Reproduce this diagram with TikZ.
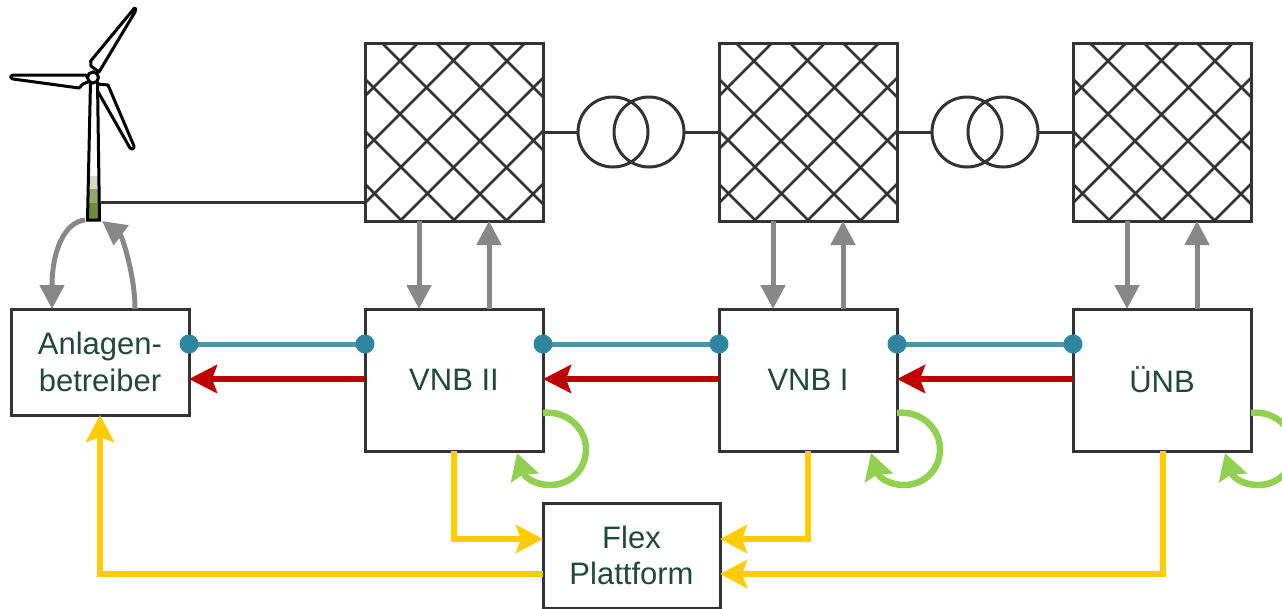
\documentclass[tikz,border=0pt]{standalone}
\usepackage{fontspec}
\setmainfont{Liberation Sans}
\usetikzlibrary{arrows.meta}
\definecolor{boxc}{HTML}{333333}
\definecolor{txtc}{HTML}{1F4A38}
\definecolor{grayc}{HTML}{888888}
\definecolor{bluec}{HTML}{4A97A8}
\definecolor{dotc}{HTML}{2F86A0}
\definecolor{redc}{HTML}{C00000}
\definecolor{yelc}{HTML}{FFCC00}
\definecolor{grnc}{HTML}{92D050}
\definecolor{towerg}{HTML}{6C8C38}
\tikzset{
  box/.style={draw=boxc,line width=3pt,fill=white,inner sep=0pt,outer sep=0pt,text=txtc,align=center,
    font=\fontsize{31}{36.7}\selectfont},
  gridbox/.style={draw=boxc,line width=3pt,inner sep=0pt,outer sep=0pt,minimum width=178pt,minimum height=178pt},
  hatchline/.style={draw=boxc,line width=2.6pt},
  trafo/.style={circle,draw=boxc,line width=3pt,inner sep=0pt,outer sep=0pt,minimum size=70pt},
  wire/.style={draw=boxc,line width=3pt},
  dotn/.style={circle,fill=dotc,inner sep=0pt,outer sep=0pt,minimum size=19pt},
  blueline/.style={draw=bluec,line width=5pt},
  grayarr/.style={draw=grayc,line width=5pt,-{Triangle[length=24pt,width=24pt,fill=grayc]}},
  redarr/.style={draw=redc,line width=6.5pt,-{Stealth[length=28pt,width=28pt,inset=5pt,fill=redc]}},
  yelarr/.style={draw=yelc,line width=6.5pt,-{Stealth[length=27pt,width=28pt,inset=5pt,fill=yelc]}},
  grnarr/.style={draw=grnc,line width=6.5pt,-{Stealth[length=26pt,width=29pt,inset=4pt,fill=grnc]}},
  blade/.style={draw=black,line width=3pt,fill=white,line join=round},
}
\begin{document}
\begin{tikzpicture}[x=1pt,y=-1pt]
\useasboundingbox (0,0) rectangle (1282,608);
% grids
\foreach \o/\n in {0/1,354/2,708/3}{
  \begin{scope}[shift={(\o,0)}]
    \begin{scope}
      \clip (365,43) rectangle (543,221);
      \foreach \c in {181,234,286,339,393,446}
        \draw[hatchline] (365,{365-\c}) -- (543,{543-\c});
      \foreach \s in {461,514,568,621,674,727}
        \draw[hatchline] (365,{\s-365}) -- (543,{\s-543});
    \end{scope}
    \node[gridbox] (grid\n) at (454,132) {};
  \end{scope}
}
% transformers
\node[trafo] (t1a) at (613,132) {};
\node[trafo] (t1b) at (649,132) {};
\node[trafo] (t2a) at (967,132) {};
\node[trafo] (t2b) at (1003,132) {};
\draw[wire] (grid1.east) -- (t1a.west);
\draw[wire] (t1b.east) -- (grid2.west);
\draw[wire] (grid2.east) -- (t2a.west);
\draw[wire] (t2b.east) -- (grid3.west);
% boxes
\node[box,minimum width=178pt,minimum height=106pt] (anl) at (100,362) {Anlagen-\\betreiber};
\node[box,minimum width=178pt,minimum height=142pt] (vnb2) at (454,380) {VNB II};
\node[box,minimum width=178pt,minimum height=142pt] (vnb1) at (808,380) {VNB I};
\node[box,minimum width=178pt,minimum height=142pt] (unb) at (1162,380) {ÜNB};
\node[box,minimum width=177pt,minimum height=105pt] (flex) at (631.5,555.5) {Flex\\Plattform};
% turbine
\coordinate (towerwire) at (101,202);
\coordinate (towerin) at (85,220);
\coordinate (towertip) at (102,221);
\draw[wire] (towerwire) -- (towerwire -| grid1.west);
\draw[blade] (91,66) -- (90.7,61) -- (134.5,8) .. controls (136,7) and (136,10) .. (135,12) -- (99,72) -- cycle;
\draw[blade] (86,75) -- (13,75) .. controls (10,76) and (10,78) .. (13,79) -- (79,88) -- (83,84) -- (90,81) -- cycle;
\draw[blade] (98,84) -- (108,85) -- (134,146) .. controls (134,149) and (132,150) .. (130,148) -- (97,90) -- cycle;
\path[fill=white] (90.5,85) -- (98,85) -- (99.5,220) -- (87.5,220) -- cycle;
\fill[white!70!towerg] (89.5,176) -- (97.8,176) -- (98.5,220) -- (88.5,220) -- cycle;
\fill[towerg!75!white] (89.3,189) -- (98,189) -- (98.5,220) -- (88.5,220) -- cycle;
\fill[towerg] (89,203) -- (98.2,203) -- (98.5,220) -- (88.5,220) -- cycle;
\draw[draw=black,line width=3pt,line join=miter] (90.5,82) -- (87.5,220) -- (99.5,220) -- (97.5,82);
\node[circle,draw=black,line width=3pt,fill=white,inner sep=0pt,minimum size=11pt] (hub) at (93,77.5) {};
% grey arrows
\foreach \a/\g in {vnb2/grid1,vnb1/grid2,unb/grid3}{
  \draw[grayarr] ([xshift=-35pt]\g.south) -- ([xshift=-35pt]\a.north);
  \draw[grayarr] ([xshift=35pt]\a.north) -- ([xshift=35pt]\g.south);
}
\coordinate (anlg1) at (52,309);
\coordinate (anlg2) at (135,309);
\draw[grayarr] (towerin) .. controls (65,222) and (52,250) .. (anlg1);
\draw[grayarr] (anlg2) .. controls (135,275) and (122,236) .. (towertip);
% blue links
\draw[blueline] (189,344) -- (365,344);
\draw[blueline] (543,344) -- (719,344);
\draw[blueline] (897,344) -- (1073,344);
\node[dotn] (d1) at (189,344) {};
\node[dotn] (d2) at (365,344) {};
\node[dotn] (d3) at (543,344) {};
\node[dotn] (d4) at (719,344) {};
\node[dotn] (d5) at (897,344) {};
\node[dotn] (d6) at (1073,344) {};
% red arrows
\draw[redarr] (vnb2.west |- 0,379) -- (anl.east |- 0,379);
\draw[redarr] (vnb1.west |- 0,379) -- (vnb2.east |- 0,379);
\draw[redarr] (unb.west |- 0,379) -- (vnb1.east |- 0,379);
% yellow arrows
\coordinate (y2) at (454,451);
\coordinate (y1) at (808,451);
\coordinate (y0) at (1163,451);
\draw[yelarr] (y2) |- (flex.west |- 0,539);
\draw[yelarr] (y1) |- (flex.east |- 0,539);
\draw[yelarr] (y0) |- (flex.east |- 0,574);
\draw[yelarr] (flex.west |- 0,574) -| (anl.south);
% green loops
\foreach \o in {0,354,708}{
  \begin{scope}[shift={(\o,0)}]
    \coordinate (ls\o) at (543,413);
    \coordinate (le\o) at (517,453);
    \draw[grnarr] (ls\o) .. controls (566,410) and (586,428) .. (586,449)
       .. controls (586,470) and (570,485) .. (550,485)
       .. controls (536,485) and (525,478) .. (le\o);
  \end{scope}
}
\end{tikzpicture}
\end{document}
